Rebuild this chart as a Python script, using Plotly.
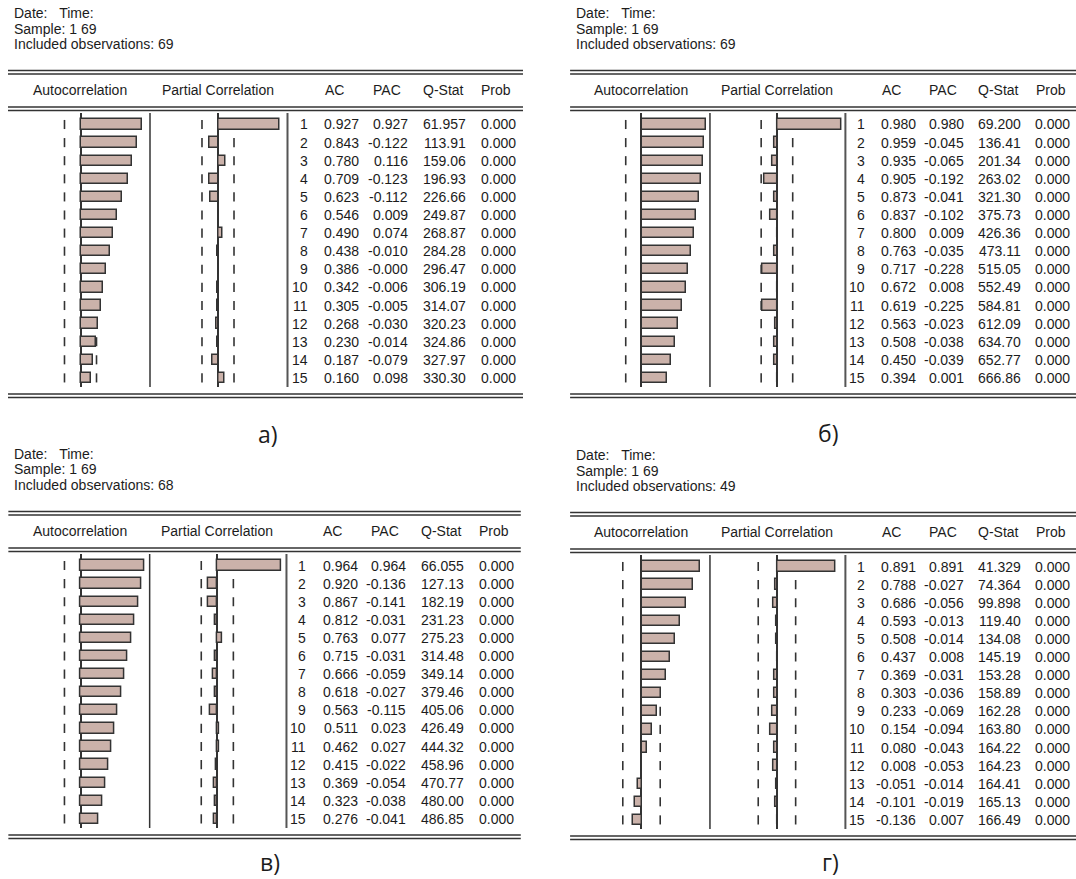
import plotly.graph_objects as go

W, H = 1076, 879

# ---------------- data ----------------
lags = [1, 2, 3, 4, 5, 6, 7, 8, 9, 10, 11, 12, 13, 14, 15]
panel_labels = ["а)", "б)", "в)", "г)"]
sample_text = "Sample: 1 69"
included_obs = [69, 69, 68, 49]

ac_a = [0.927, 0.843, 0.780, 0.709, 0.623, 0.546, 0.490, 0.438, 0.386, 0.342, 0.305, 0.268, 0.230, 0.187, 0.160]
pac_a = [0.927, -0.122, 0.116, -0.123, -0.112, 0.009, 0.074, -0.010, -0.0, -0.006, -0.005, -0.030, -0.014, -0.079, 0.098]
q_a = [61.957, 113.91, 159.06, 196.93, 226.66, 249.87, 268.87, 284.28, 296.47, 306.19, 314.07, 320.23, 324.86, 327.97, 330.30]
prob_a = [0.000, 0.000, 0.000, 0.000, 0.000, 0.000, 0.000, 0.000, 0.000, 0.000, 0.000, 0.000, 0.000, 0.000, 0.000]

ac_b = [0.980, 0.959, 0.935, 0.905, 0.873, 0.837, 0.800, 0.763, 0.717, 0.672, 0.619, 0.563, 0.508, 0.450, 0.394]
pac_b = [0.980, -0.045, -0.065, -0.192, -0.041, -0.102, 0.009, -0.035, -0.228, 0.008, -0.225, -0.023, -0.038, -0.039, 0.001]
q_b = [69.200, 136.41, 201.34, 263.02, 321.30, 375.73, 426.36, 473.11, 515.05, 552.49, 584.81, 612.09, 634.70, 652.77, 666.86]
prob_b = [0.000, 0.000, 0.000, 0.000, 0.000, 0.000, 0.000, 0.000, 0.000, 0.000, 0.000, 0.000, 0.000, 0.000, 0.000]

ac_v = [0.964, 0.920, 0.867, 0.812, 0.763, 0.715, 0.666, 0.618, 0.563, 0.511, 0.462, 0.415, 0.369, 0.323, 0.276]
pac_v = [0.964, -0.136, -0.141, -0.031, 0.077, -0.031, -0.059, -0.027, -0.115, 0.023, 0.027, -0.022, -0.054, -0.038, -0.041]
q_v = [66.055, 127.13, 182.19, 231.23, 275.23, 314.48, 349.14, 379.46, 405.06, 426.49, 444.32, 458.96, 470.77, 480.00, 486.85]
prob_v = [0.000, 0.000, 0.000, 0.000, 0.000, 0.000, 0.000, 0.000, 0.000, 0.000, 0.000, 0.000, 0.000, 0.000, 0.000]

ac_g = [0.891, 0.788, 0.686, 0.593, 0.508, 0.437, 0.369, 0.303, 0.233, 0.154, 0.080, 0.008, -0.051, -0.101, -0.136]
pac_g = [0.891, -0.027, -0.056, -0.013, -0.014, 0.008, -0.031, -0.036, -0.069, -0.094, -0.043, -0.053, -0.014, -0.019, 0.007]
q_g = [41.329, 74.364, 99.898, 119.40, 134.08, 145.19, 153.28, 158.89, 162.28, 163.80, 164.22, 164.23, 164.41, 165.13, 166.49]
prob_g = [0.000, 0.000, 0.000, 0.000, 0.000, 0.000, 0.000, 0.000, 0.000, 0.000, 0.000, 0.000, 0.000, 0.000, 0.000]

panels = [
    (ac_a, pac_a, q_a, prob_a),
    (ac_b, pac_b, q_b, prob_b),
    (ac_v, pac_v, q_v, prob_v),
    (ac_g, pac_g, q_g, prob_g),
]

# ---------------- layout constants (pixels) ----------------
# (x offset, y offset, horizontal scale) of each panel relative to panel a
offsets = [(0, 0, 1.0), (561, 0, 0.985), (0, 441, 0.995), (561, 442, 0.985)]
label_pos = [(268, 434), (828, 433), (270, 862), (830, 862)]
FONT = "Liberation Sans, Arial, sans-serif"
TXT = "#1c1c1c"
FS = 14
BAR_FILL = "#cbb2aa"
EDGE = "#333333"

ROW1 = 124.5
STEP = 18.1
PLOT_TOP = 113.0
PLOT_BOT = 387.0
UNIT = 66.5
AC_ZERO = 80.5
PAC_ZERO = 218.0
INFO_Y = [13, 28.5, 44]


def fx(x):
    return x / W


def fy(y):
    return 1 - y / H


def fmt_q(q):
    digits = len(str(int(q)))
    return f"{q:.{5 - digits}f}"


fig = go.Figure()
layout = {}
shapes = []
annotations = []

y_top_val = 1 - (ROW1 - PLOT_TOP) / STEP
y_bot_val = 1 + (PLOT_BOT - ROW1) / STEP

for p, (ox, oy, s) in enumerate(offsets):
    def X(x):
        return ox + AC_ZERO + (x - AC_ZERO) * s

    ac, pac, q, prob = panels[p]
    n = included_obs[p]
    band = 2 / n ** 0.5
    ydom = [fy(oy + PLOT_BOT), fy(oy + PLOT_TOP)]
    for c, (vals, zero) in enumerate([(ac, AC_ZERO), (pac, PAC_ZERO)]):
        k = p * 2 + c + 1
        ko = k + 8
        xid = "x" if k == 1 else f"x{k}"
        yid = "y" if k == 1 else f"y{k}"
        yoid = f"y{ko}"
        xkey = "xaxis" if k == 1 else f"xaxis{k}"
        ykey = "yaxis" if k == 1 else f"yaxis{k}"
        yokey = f"yaxis{ko}"
        layout[xkey] = dict(
            domain=[fx(X(zero) - UNIT * s), fx(X(zero) + UNIT * s)],
            range=[-1, 1], anchor=yid, showgrid=False, showticklabels=False,
            zeroline=True, zerolinecolor=EDGE, zerolinewidth=1.5, showline=False,
            ticks="",
        )
        layout[ykey] = dict(
            domain=ydom, range=[y_bot_val, y_top_val], anchor=xid,
            showgrid=False, showticklabels=False, zeroline=False, showline=False, ticks="",
        )
        layout[yokey] = dict(
            range=[y_bot_val, y_top_val], anchor=xid, overlaying=yid,
            showgrid=False, showticklabels=False, zeroline=False, showline=False,
            ticks="", visible=False,
        )
        # dashed +-2/sqrt(T) bands (below bars)
        for sgn in (-1, 1):
            fig.add_trace(go.Scatter(
                x=[sgn * band] * len(lags), y=lags, mode="markers",
                marker=dict(symbol="line-ns", size=6.5, color=EDGE,
                            line=dict(width=1.6, color=EDGE)),
                xaxis=xid, yaxis=yid, showlegend=False, hoverinfo="skip",
            ))
        fig.add_trace(go.Bar(
            x=vals, y=lags, orientation="h", width=0.57,
            marker=dict(color=BAR_FILL, line=dict(color=EDGE, width=1.5)),
            xaxis=xid, yaxis=yoid, showlegend=False,
        ))
    # table text
    pac_yid = f"y{p * 2 + 2}"
    cols = [
        ([str(l) for l in lags], 309.5),
        ([f"{v:.3f}" for v in ac], 361),
        ([f"{v:.3f}" for v in pac], 409.5),
        ([fmt_q(v) for v in q], 467.5),
        ([f"{v:.3f}" for v in prob], 518),
    ]
    for texts, xr in cols:
        for lag, t in zip(lags, texts):
            annotations.append(dict(
                x=fx(X(xr)), xref="paper", y=lag, yref=pac_yid,
                text=t, showarrow=False, xanchor="right", yanchor="middle",
                font=dict(family=FONT, size=FS, color=TXT),
            ))
    # header info
    info = ["Date:\u00a0\u00a0\u00a0Time:", sample_text, f"Included observations: {n}"]
    for i, t in enumerate(info):
        annotations.append(dict(
            x=fx(X(12)), y=fy(oy + INFO_Y[i]), xref="paper", yref="paper",
            text=t, showarrow=False, xanchor="left", yanchor="middle",
            font=dict(family=FONT, size=FS, color=TXT),
        ))
    heads = [("Autocorrelation", 80), ("Partial Correlation", 218), ("AC", 334),
             ("PAC", 387), ("Q-Stat", 443), ("Prob", 496)]
    for t, xc in heads:
        annotations.append(dict(
            x=fx(X(xc)), y=fy(oy + 90), xref="paper", yref="paper",
            text=t, showarrow=False, xanchor="center", yanchor="middle",
            font=dict(family=FONT, size=FS, color=TXT),
        ))
    # horizontal rules
    for yy in (70.5, 74, 107, 110.5, 394, 397.5):
        shapes.append(dict(
            type="line", xref="paper", yref="paper",
            x0=fx(X(8)), x1=fx(X(523)), y0=fy(oy + yy), y1=fy(oy + yy),
            line=dict(color=EDGE, width=1.5),
        ))
    # column boundaries
    for xx, col, wd in ((150, EDGE, 1.5), (287.5, "#555555", 2)):
        shapes.append(dict(
            type="line", xref="paper", yref="paper",
            x0=fx(X(xx)), x1=fx(X(xx)), y0=fy(oy + PLOT_TOP), y1=fy(oy + PLOT_BOT),
            line=dict(color=col, width=wd),
        ))
    # panel label
    lx, ly = label_pos[p]
    annotations.append(dict(
        x=fx(lx), y=fy(ly), xref="paper", yref="paper",
        text=panel_labels[p], showarrow=False, xanchor="center", yanchor="middle",
        font=dict(family="Open Sans, sans-serif", size=23, color=TXT),
    ))

fig.update_layout(
    width=W, height=H, margin=dict(l=0, r=0, t=0, b=0),
    paper_bgcolor="white", plot_bgcolor="rgba(0,0,0,0)",
    showlegend=False, shapes=shapes, annotations=annotations,
    bargap=0, **layout,
)

fig.write_html(
    "out.html",
    config={"displayModeBar": False},
    post_script="document.body.style.margin='0px';document.body.style.overflow='hidden';",
)
